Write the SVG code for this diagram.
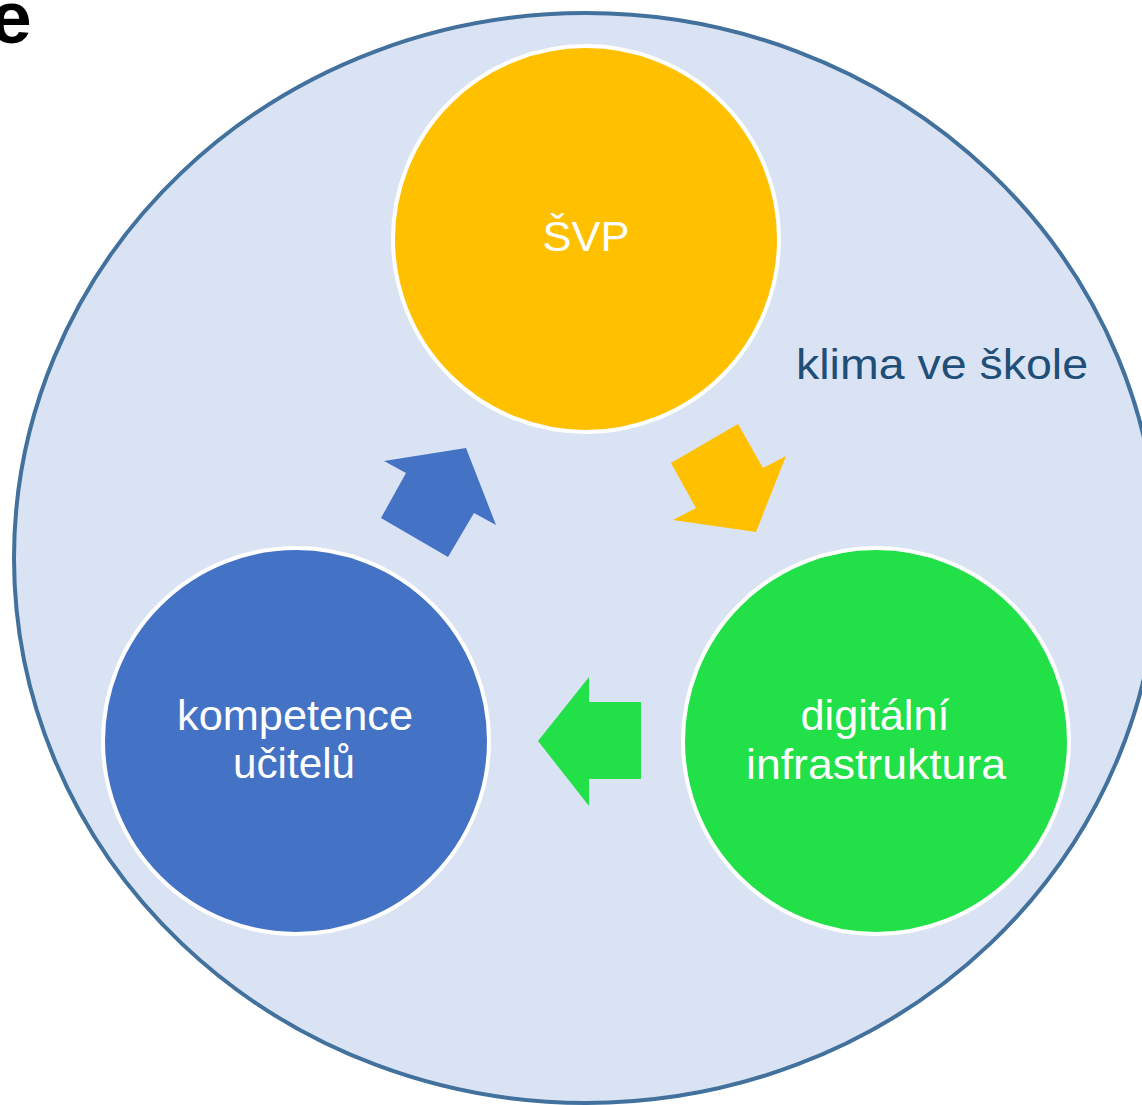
<svg xmlns="http://www.w3.org/2000/svg" width="1142" height="1105" viewBox="0 0 1142 1105">
<style>
.lbl{font-family:"Liberation Sans",Arial,sans-serif;font-size:42px;fill:#fff;text-anchor:middle}
.node{stroke:#fff;stroke-width:4}
</style>
<rect width="1142" height="1105" fill="#fff"/>
<text x="-10" y="43" font-family="Liberation Sans, Arial, sans-serif" font-size="75" font-weight="bold" fill="#000">e</text>
<g id="klima">
<ellipse cx="586" cy="558" rx="572" ry="545" fill="#DAE3F3" stroke="#41719C" stroke-width="4"/>
<text x="942" y="379" font-family="Liberation Sans, Arial, sans-serif" font-size="42" fill="#1F4E79" text-anchor="middle" textLength="292" lengthAdjust="spacingAndGlyphs">klima ve škole</text>
</g>
<g id="connectors">
<polygon points="384,461 466,448 496,525 474,513 448,557 381,518 406,473" fill="#4472C4"/>
<polygon points="738,424 763,468 786,456 756,532 673,520 696,508 671,463" fill="#FFC000"/>
<polygon points="589,677 589,702 641,702 641,779 589,779 589,806 538,741" fill="#22E048"/>
</g>
<g id="svp">
<circle class="node" cx="586" cy="239" r="193" fill="#FFC000"/>
<text class="lbl" x="586" y="251" textLength="87" lengthAdjust="spacingAndGlyphs">ŠVP</text>
</g>
<g id="kompetence">
<circle class="node" cx="296" cy="741" r="193" fill="#4472C4"/>
<text class="lbl" x="295" y="730" textLength="236" lengthAdjust="spacingAndGlyphs">kompetence</text>
<text class="lbl" x="294" y="778" textLength="122" lengthAdjust="spacingAndGlyphs">učitelů</text>
</g>
<g id="digitalni">
<circle class="node" cx="876" cy="741" r="193" fill="#22E048"/>
<text class="lbl" x="875" y="730" textLength="149" lengthAdjust="spacingAndGlyphs">digitální</text>
<text class="lbl" x="876" y="779" textLength="260" lengthAdjust="spacingAndGlyphs">infrastruktura</text>
</g>
</svg>
